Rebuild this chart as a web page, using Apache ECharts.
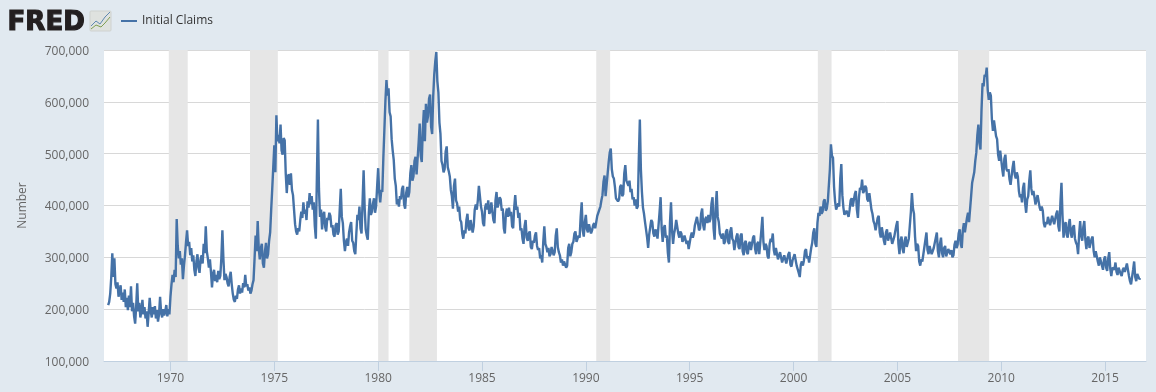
<!DOCTYPE html>
<html><head><meta charset="utf-8">
<style>html,body{margin:0;padding:0;background:#e1e9f0}#c{width:1156px;height:392px}</style>
<script src="https://cdn.jsdelivr.net/npm/echarts@6/dist/echarts.min.js"></script>
</head><body><div id="c"></div>
<script>
// Initial claims in thousands, read every twentieth of a year, starting at 1967.0
const startYear = 1967;
const claims1960s = [
 208,214,230,262,308,262,298,248,240,252,224,236,246,218,232,214,238,204,222,198,
 226,204,244,196,212,186,172,206,250,196,212,184,196,218,190,204,182,196,166,192,
 222,196,184,204,190,206,182,198,176,190,224,194,184,200,188,196,208,186,200,190];
const claims1970s = [
 224,248,266,252,276,262,374,322,298,312,286,298,258,284,304,330,352,322,330,304,
 318,292,304,276,264,292,306,280,270,296,304,288,326,308,360,312,298,280,296,272,
 242,268,276,254,266,252,274,258,264,298,352,296,256,268,262,250,244,262,272,248,
 230,218,214,226,220,238,246,230,240,232,250,242,266,244,248,236,242,230,236,248,
 256,298,342,312,370,318,296,318,326,288,280,312,328,298,306,332,348,392,432,474,
 516,464,574,524,536,520,556,506,498,530,526,462,424,456,460,440,462,430,420,392,
 364,350,344,356,350,372,388,376,406,384,392,372,408,396,424,402,418,392,406,360,
 336,454,566,432,378,392,354,380,388,358,350,376,372,386,380,358,362,344,340,362,
 366,344,350,392,432,378,366,332,312,330,336,322,348,360,368,332,328,312,306,346,
 382,372,398,356,346,408,468,396,354,342,334,386,414,382,388,404,414,386,398,436];
const claims1980s = [
 472,426,406,430,426,492,546,602,642,612,626,580,572,528,506,488,452,438,402,412,
 398,418,412,432,438,402,394,424,436,416,426,462,478,448,456,486,494,460,458,522,
 558,496,484,548,584,524,596,560,572,606,614,552,538,610,652,678,696,640,618,560,
 538,486,478,464,470,504,514,474,466,456,430,418,394,438,452,410,404,388,398,372,
 368,346,336,352,346,372,384,356,352,372,370,348,360,392,402,392,410,438,436,398,
 388,366,360,396,404,392,410,384,388,406,404,372,366,410,426,396,404,416,412,390,
 394,356,346,384,394,378,396,380,388,360,356,396,420,392,398,376,386,352,356,336,
 326,360,372,338,332,346,350,320,316,332,328,342,348,322,314,318,298,304,290,330,
 360,326,320,310,318,302,306,320,320,304,310,342,356,320,310,304,290,296,284,292,
 290,280,284,318,326,302,310,326,330,346,350,330,332,342,338,378,406,352,340,368];
const claims1990s = [
 382,354,348,364,362,346,352,362,366,356,368,380,380,392,398,410,420,446,458,418,
 416,462,484,502,510,470,456,452,436,414,416,408,412,436,440,418,422,462,478,448,
 446,438,448,426,432,412,416,400,412,394,398,490,566,470,426,396,384,368,370,338,
 318,344,358,372,368,346,340,354,348,336,338,388,416,356,330,356,362,338,342,308,
 290,366,406,352,326,346,356,372,372,346,338,350,346,330,334,342,340,326,332,316,
 316,340,348,338,346,362,362,378,378,352,356,384,394,362,352,374,378,366,382,368,
 374,404,416,356,334,396,428,378,368,346,348,336,346,326,330,350,354,330,326,350,
 358,336,332,314,316,340,346,320,316,342,346,312,304,328,332,310,306,326,330,314,
 316,338,342,316,306,326,330,306,306,352,378,330,314,326,322,302,298,326,336,330,
 346,314,304,318,316,296,294,310,310,290,288,304,306,288,288,306,310,286,282,294];
const claims2000s = [
 292,306,308,284,284,270,262,286,292,284,294,312,316,298,302,290,292,318,328,348,
 356,326,320,366,386,380,398,384,388,408,412,390,394,408,406,470,518,496,492,436,
 408,392,392,404,398,452,480,420,396,382,380,390,384,378,392,410,414,398,400,422,
 428,392,376,416,434,430,450,424,428,438,434,412,408,424,422,392,384,370,364,352,
 354,376,380,348,338,358,360,332,324,348,354,332,332,348,348,326,324,340,340,362,
 370,326,306,332,340,316,308,332,340,320,318,336,334,388,424,394,384,340,312,326,
 322,292,284,296,292,306,306,334,348,314,306,322,322,306,306,318,316,338,348,312,
 300,326,338,308,300,318,322,302,300,316,318,306,314,300,304,324,332,318,324,346,
 354,326,318,352,366,348,350,376,386,368,370,418,444,444,464,486,502,536,556,520,
 508,584,636,630,652,648,666,622,604,618,612,566,544,564,562,534,528,498,486,506];
const claims2010s = [
 506,470,456,490,498,470,466,470,450,440,442,474,486,460,452,464,456,428,416,422,
 406,434,444,404,386,412,418,448,468,432,420,428,416,402,402,420,422,396,390,398,
 390,366,358,368,364,378,380,362,364,380,382,364,364,384,390,360,350,406,444,380,
 338,360,368,344,338,364,374,346,338,358,362,336,328,324,306,344,370,342,332,358,
 370,334,316,336,340,318,316,336,340,312,300,312,312,292,284,300,302,284,276,296,
 302,280,274,298,310,278,264,280,280,276,290,272,266,280,280,268,264,276,280,272,
 274,288,290,264,254,248,248,276,292,262,254,268,270,258,260];
const recessionStarts = [1969.92,1973.83,1980.0,1981.5,1990.5,2001.17,2007.92];
const recessionEnds   = [1970.83,1975.17,1980.5,1982.83,1991.17,2001.83,2009.42];
const xTicks = [1970,1975,1980,1985,1990,1995,2000,2005,2010,2015];
const seriesName = 'Initial Claims';

const claims = [...claims1960s,...claims1970s,...claims1980s,...claims1990s,...claims2000s,...claims2010s];
const points = claims.map((v,i)=>[startYear+i/20, v*1000]);
const tickColor = '#c0d0e0', textColor = '#666666', font = '"Open Sans", sans-serif';

const chart = echarts.init(document.getElementById('c'), null, {renderer:'canvas'});
chart.setOption({
  animation:false,
  backgroundColor:'#e1e9f0',
  grid:{left:104,right:10,top:50,bottom:31,show:true,backgroundColor:'#ffffff',borderWidth:0},
  legend:{left:116,top:10,data:[seriesName],icon:'rect',itemWidth:16,itemHeight:2,itemGap:5,
    textStyle:{color:'#333333',fontSize:12,fontFamily:font}},
  xAxis:{type:'value',min:1966.8,max:2016.97,
    axisLine:{show:true,lineStyle:{color:tickColor,width:1}},
    axisTick:{show:true,length:10,customValues:xTicks,lineStyle:{color:tickColor,width:1}},
    axisLabel:{show:true,customValues:xTicks,color:textColor,fontSize:12,fontFamily:font,margin:12,
      formatter:v=>String(v)},
    splitLine:{show:false}},
  yAxis:{type:'value',min:100000,max:700000,interval:100000,
    name:'Number',nameLocation:'middle',nameGap:75,
    nameTextStyle:{color:textColor,fontSize:12,fontFamily:font},
    axisLine:{show:false},axisTick:{show:false},
    axisLabel:{color:textColor,fontSize:12,fontFamily:font,margin:15,
      formatter:v=>'{a|'+v.toLocaleString('en-US')+'}',
      rich:{a:{color:textColor,fontSize:12,fontFamily:font,padding:[3,0,0,0]}}},
    splitLine:{show:true,lineStyle:{color:'#d8d8d8',width:1}}},
  series:[{
    name:seriesName,type:'line',data:points,showSymbol:false,symbol:'none',smooth:false,
    lineStyle:{color:'#4572a7',width:2.4},itemStyle:{color:'#4572a7'},
    markArea:{silent:true,itemStyle:{color:'#e6e6e6',opacity:1},
      data:recessionStarts.map((s,i)=>[{xAxis:s},{xAxis:recessionEnds[i]}])}
  }],
  graphic:[
    {type:'text',left:7,top:10,style:{text:'FRED',fill:'#231f20',stroke:'#231f20',lineWidth:1.2,
      font:'bold 26px "DejaVu Sans"'}},
    {type:'rect',shape:{x:90,y:11,width:21,height:20,r:1},style:{fill:'#dfe2df',stroke:'#cfd2cf',lineWidth:1}},
    {type:'polyline',shape:{points:[[91,26],[96,21],[100,24],[105,17],[110,12]]},style:{stroke:'#5f88b0',fill:null,lineWidth:1}},
    {type:'polyline',shape:{points:[[91,29],[96,25],[101,27],[105,23],[110,17]]},style:{stroke:'#7f9f52',fill:null,lineWidth:1}}
  ]
});
</script></body></html>
